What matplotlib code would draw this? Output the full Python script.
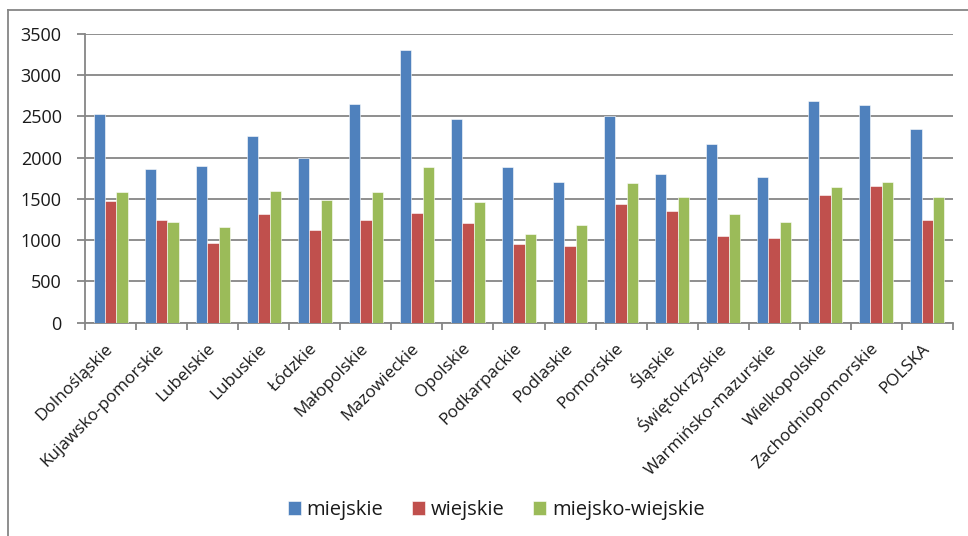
import matplotlib

matplotlib.use("Agg")
import matplotlib.pyplot as plt
import numpy as np
from matplotlib.lines import Line2D

plt.rcParams["font.family"] = ["Open Sans", "DejaVu Sans"]

regions = [
    "Dolnośląskie", "Kujawsko-pomorskie", "Lubelskie", "Lubuskie", "Łódzkie",
    "Małopolskie", "Mazowieckie", "Opolskie", "Podkarpackie", "Podlaskie",
    "Pomorskie", "Śląskie", "Świętokrzyskie", "Warmińsko-mazurskie",
    "Wielkopolskie", "Zachodniopomorskie", "POLSKA",
]
miejskie = [2531, 1858, 1898, 2261, 1998, 2645, 3303, 2467, 1882, 1700,
            2503, 1797, 2160, 1764, 2689, 2640, 2346]
wiejskie = [1474, 1244, 965, 1320, 1126, 1240, 1325, 1204, 957, 929,
            1438, 1356, 1046, 1026, 1547, 1656, 1244]
miejsko_wiejskie = [1583, 1220, 1155, 1591, 1486, 1587, 1886, 1458, 1074, 1183,
                    1692, 1519, 1320, 1220, 1643, 1704, 1522]

series = [
    ("miejskie", miejskie, "#4F81BD"),
    ("wiejskie", wiejskie, "#C0504D"),
    ("miejsko-wiejskie", miejsko_wiejskie, "#9BBB59"),
]

GRID = "#868686"
TEXT = "#1a1a1a"

fig = plt.figure(figsize=(9.68, 5.36), dpi=100)
ax = fig.add_axes([0.0881, 0.398, 0.8961, 0.539])

x = np.arange(len(regions))
w = 1 / 4.5
for i, (name, vals, color) in enumerate(series):
    ax.bar(x + (i - 1) * w, vals, width=w, color=color, label=name,
           edgecolor="white", linewidth=0.4, zorder=3)

ax.set_xlim(-0.5, len(regions) - 0.5)
ax.set_ylim(0, 3500)
ax.set_yticks(np.arange(0, 3501, 500))
ax.yaxis.grid(True, color=GRID, linewidth=1.3, zorder=0)
ax.set_axisbelow(True)

for side in ("top", "right"):
    ax.spines[side].set_visible(False)
for side in ("left", "bottom"):
    ax.spines[side].set_color(GRID)
    ax.spines[side].set_linewidth(1.3)

ax.tick_params(axis="y", length=6, width=1.3, color=GRID, pad=11,
               labelsize=13, labelcolor=TEXT)
ax.set_xticks(x)
ax.set_xticklabels(regions)
ax.set_xticks(np.arange(-0.5, len(regions)), minor=True)
ax.tick_params(axis="x", which="major", length=0, pad=17,
               labelsize=12.3, labelcolor=TEXT)
ax.tick_params(axis="x", which="minor", length=5, width=1.3, color=GRID)
for lbl in ax.get_xticklabels():
    lbl.set_rotation(45)
    lbl.set_ha("right")
    lbl.set_va("center")
    lbl.set_rotation_mode("anchor")

ax.legend(loc="center", bbox_to_anchor=(496 / 968, 1 - 510 / 536),
          bbox_transform=fig.transFigure, ncol=3, frameon=False,
          fontsize=14.5, handlelength=0.65, handleheight=0.65,
          handletextpad=0.3, columnspacing=1.4, labelcolor=TEXT)

# outer chart frame (left and top edges visible in the crop)
fig.add_artist(Line2D([8 / 968, 8 / 968], [0, 1 - 10 / 536],
                      transform=fig.transFigure, color=GRID, linewidth=1.3))
fig.add_artist(Line2D([8 / 968, 1], [1 - 10 / 536, 1 - 10 / 536],
                      transform=fig.transFigure, color=GRID, linewidth=1.3))

fig.savefig("out.png", dpi=100)
